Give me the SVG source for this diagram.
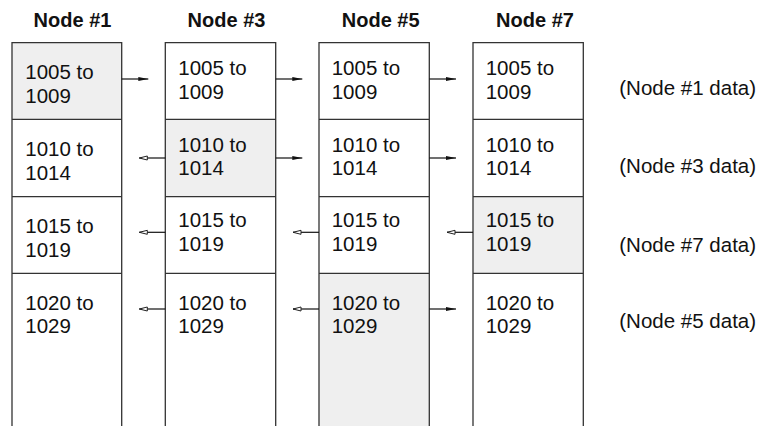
<svg xmlns="http://www.w3.org/2000/svg" width="763" height="426" viewBox="0 0 763 426">
<defs>
<marker id="solid" markerUnits="userSpaceOnUse" markerWidth="12" markerHeight="6" refX="10" refY="3" orient="auto">
<path d="M0,1 L10,3 L0,5 z" fill="#111"/>
</marker>
<marker id="hollow" markerUnits="userSpaceOnUse" markerWidth="12" markerHeight="8" refX="9.5" refY="4" orient="auto">
<path d="M1.5,2 L9.5,4 L1.5,6 z" fill="#fff" stroke="#222" stroke-width="1"/>
</marker>
</defs>
<style>
.col{fill:#fff;stroke:none}
.hl{fill:#efefef;stroke:none}
.edge{stroke:#333;stroke-width:1.3;fill:none}
.title{font-family:"Liberation Sans",Arial,sans-serif;font-weight:bold;font-size:20px;fill:#111;text-anchor:middle}
.t{font-family:"Liberation Sans",Arial,sans-serif;font-size:20.5px;fill:#111}
.r{stroke:#111;stroke-width:1.2;marker-end:url(#solid)}
.l{stroke:#111;stroke-width:1.2;marker-end:url(#hollow)}
</style>
<rect width="763" height="426" fill="#fff"/>

<g id="node1">
<text class="title" x="72.5" y="27.3">Node #1</text>
<rect class="hl" x="12" y="42.7" width="109.7" height="76.6"/>
<path class="edge" d="M12,426 V42.7 H121.7 V426 M12,119.3 H121.7 M12,196.7 H121.7 M12,273.3 H121.7"/>
<text class="t" x="25.3" y="79.3">1005 to</text><text class="t" x="25.3" y="102.7">1009</text>
<text class="t" x="25.3" y="156.3">1010 to</text><text class="t" x="25.3" y="179.7">1014</text>
<text class="t" x="25.3" y="233.3">1015 to</text><text class="t" x="25.3" y="256.7">1019</text>
<text class="t" x="25.3" y="310">1020 to</text><text class="t" x="25.3" y="333.4">1029</text>
</g>

<g id="node3">
<text class="title" x="226.5" y="27.3">Node #3</text>
<rect class="hl" x="165.3" y="119.3" width="110.4" height="77.4"/>
<path class="edge" d="M165.3,426 V42.7 H275.7 V426 M165.3,119.3 H275.7 M165.3,196.7 H275.7 M165.3,273.3 H275.7"/>
<text class="t" x="178.3" y="75.3">1005 to</text><text class="t" x="178.3" y="98.7">1009</text>
<text class="t" x="178.3" y="151.7">1010 to</text><text class="t" x="178.3" y="175.1">1014</text>
<text class="t" x="178.3" y="227.3">1015 to</text><text class="t" x="178.3" y="250.7">1019</text>
<text class="t" x="178.3" y="310">1020 to</text><text class="t" x="178.3" y="333.4">1029</text>
</g>

<g id="node5">
<text class="title" x="380.7" y="27.3">Node #5</text>
<rect class="hl" x="319" y="273.3" width="110.3" height="152.7"/>
<path class="edge" d="M319,426 V42.7 H429.3 V426 M319,119.3 H429.3 M319,196.7 H429.3 M319,273.3 H429.3"/>
<text class="t" x="331.7" y="75.3">1005 to</text><text class="t" x="331.7" y="98.7">1009</text>
<text class="t" x="331.7" y="151.7">1010 to</text><text class="t" x="331.7" y="175.1">1014</text>
<text class="t" x="331.7" y="227.3">1015 to</text><text class="t" x="331.7" y="250.7">1019</text>
<text class="t" x="331.7" y="310">1020 to</text><text class="t" x="331.7" y="333.4">1029</text>
</g>

<g id="node7">
<text class="title" x="535" y="27.3">Node #7</text>
<rect class="hl" x="473" y="196.7" width="110.3" height="76.6"/>
<path class="edge" d="M473,426 V42.7 H583.3 V426 M473,119.3 H583.3 M473,196.7 H583.3 M473,273.3 H583.3"/>
<text class="t" x="485.7" y="75.3">1005 to</text><text class="t" x="485.7" y="98.7">1009</text>
<text class="t" x="485.7" y="151.7">1010 to</text><text class="t" x="485.7" y="175.1">1014</text>
<text class="t" x="485.7" y="227.3">1015 to</text><text class="t" x="485.7" y="250.7">1019</text>
<text class="t" x="485.7" y="310">1020 to</text><text class="t" x="485.7" y="333.4">1029</text>
</g>

<g id="labels">
<text class="t" x="619.3" y="95">(Node #1 data)</text>
<text class="t" x="619.3" y="172.5">(Node #3 data)</text>
<text class="t" x="619.3" y="251.5">(Node #7 data)</text>
<text class="t" x="619.3" y="328.3">(Node #5 data)</text>
</g>

<g id="connectors">
<line class="r" x1="121.7" y1="79" x2="148.3" y2="79"/>
<line class="r" x1="275.7" y1="79" x2="302.3" y2="79"/>
<line class="r" x1="429.3" y1="79" x2="456" y2="79"/>
<line class="l" x1="165.3" y1="158" x2="139.3" y2="158"/>
<line class="r" x1="275.7" y1="158" x2="302.3" y2="158"/>
<line class="r" x1="429.3" y1="158" x2="456" y2="158"/>
<line class="l" x1="165.3" y1="232.3" x2="139.3" y2="232.3"/>
<line class="l" x1="319" y1="232.3" x2="293" y2="232.3"/>
<line class="l" x1="473" y1="232.3" x2="447" y2="232.3"/>
<line class="l" x1="165.3" y1="309" x2="139.3" y2="309"/>
<line class="l" x1="319" y1="309" x2="293" y2="309"/>
<line class="r" x1="429.3" y1="309" x2="456" y2="309"/>
</g>
</svg>
